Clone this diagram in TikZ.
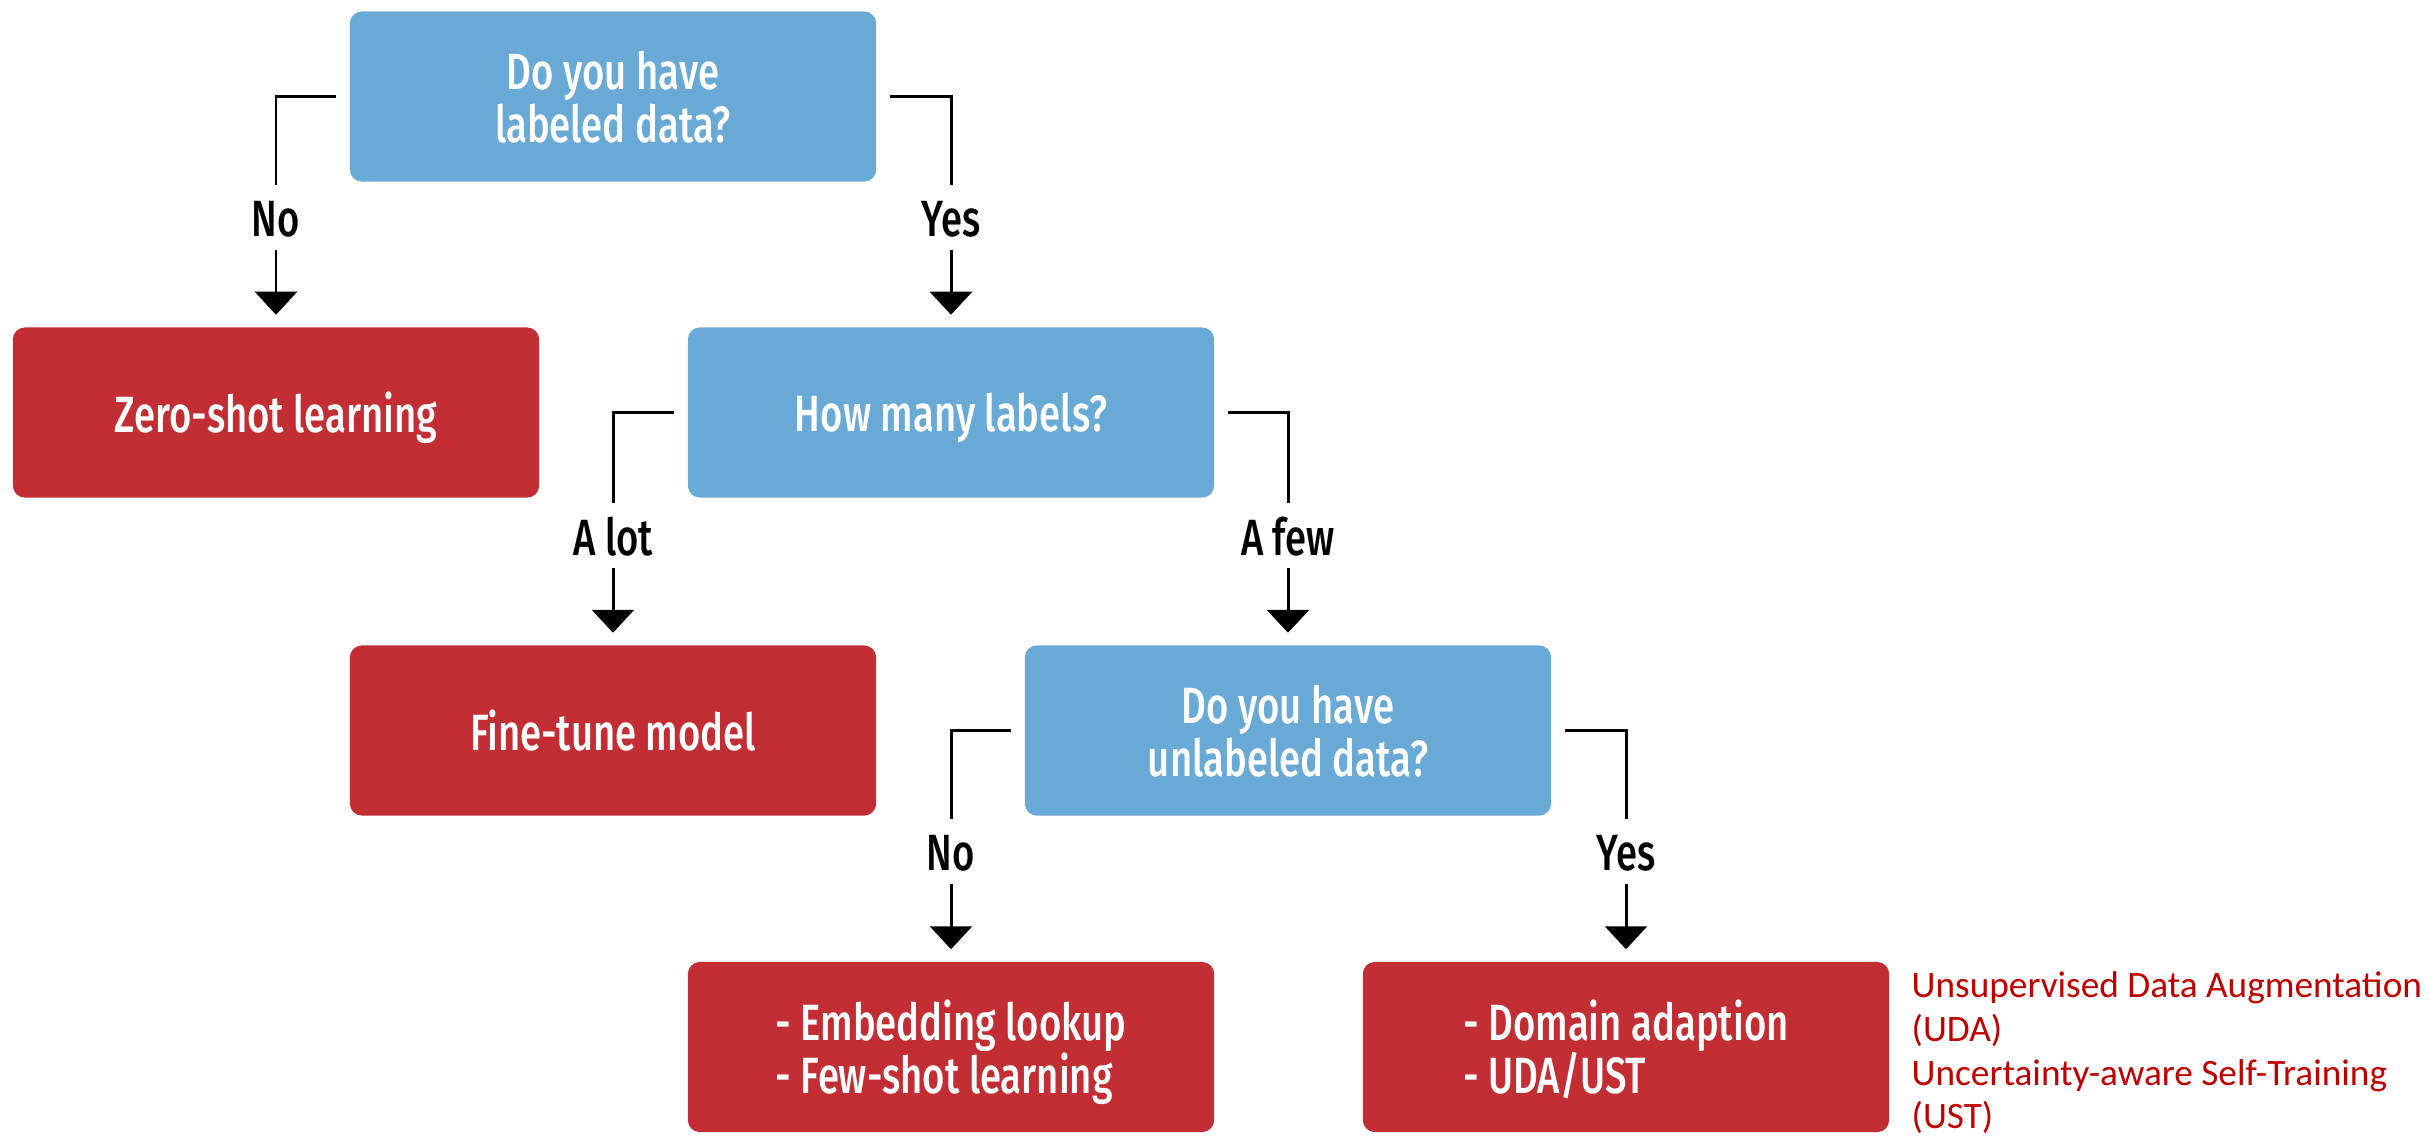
\documentclass[tikz,border=0pt]{standalone}
\usepackage{fontspec}
\setmainfont{Fira Sans}[FakeStretch=0.75, UprightFont=* Medium]
\newfontfamily\notefont{Carlito}
\usetikzlibrary{arrows.meta}
\definecolor{qblue}{HTML}{68A9D6}
\definecolor{ared}{HTML}{C22E34}
\definecolor{notered}{HTML}{C00000}
\tikzset{
  box/.style={rectangle, rounded corners=3.4pt, minimum width=5.26cm, minimum height=1.70cm,
    text=white, align=center, inner sep=0pt, text depth=0pt,
    font=\fontsize{14.5}{15.1}\selectfont},
  question/.style={box, fill=qblue},
  answer/.style={box, fill=ared},
  choice/.style={inner sep=0pt, text=black, font=\fontsize{14.5}{15.1}\selectfont},
  link/.style={line width=0.85pt},
  branch/.style={link, shorten <=0.13cm, shorten >=0.34cm},
  pointer/.style={link, -{Triangle[width=0.42cm,length=0.23cm]}, shorten <=0.31cm, shorten >=0.12cm},
  note/.style={inner sep=0pt, text=notered, align=left, anchor=west,
    font=\notefont\fontsize{10.6}{12.4}\selectfont},
}
\begin{document}
\begin{tikzpicture}[x=0.01cm, y=-0.01cm]
\useasboundingbox (0,0) rectangle (2430,1135);

% decision and outcome boxes
\node[question] (q1) at (613,96.5) {Do you have\\labeled data?};
\node[answer]   (zs) at (276,412.5) {Zero-shot learning};
\node[question] (q2) at (951,412.5) {How many labels?};
\node[answer]   (ft) at (613,730.5) {Fine-tune model};
\node[question] (q3) at (1288,730.5) {Do you have\\unlabeled data?};
\node[answer, align=left] (emb) at (951,1047) {- Embedding lookup\\- Few-shot learning};
\node[answer, align=left] (dom) at (1626,1047) {- Domain adaption\\- UDA/UST};

% branch labels
\node[choice] (c1) at (276,219) {No};
\node[choice] (c2) at (951,219) {Yes};
\node[choice] (c3) at (613,537) {A lot};
\node[choice] (c4) at (1288,537) {A few};
\node[choice] (c5) at (951,853) {No};
\node[choice] (c6) at (1626,853) {Yes};

% connectors
\draw[branch] (q1.west) -| (c1.center);
\draw[pointer] (c1.center) -- (zs.north);
\draw[branch] (q1.east) -| (c2.center);
\draw[pointer] (c2.center) -- (q2.north);
\draw[branch] (q2.west) -| (c3.center);
\draw[pointer] (c3.center) -- (ft.north);
\draw[branch] (q2.east) -| (c4.center);
\draw[pointer] (c4.center) -- (q3.north);
\draw[branch] (q3.west) -| (c5.center);
\draw[pointer] (c5.center) -- (emb.north);
\draw[branch] (q3.east) -| (c6.center);
\draw[pointer] (c6.center) -- (dom.north);

% abbreviations
\node[note] (abbr) at (1911,1053) {Unsupervised Data Augmentation\\(UDA)\\Uncertainty-aware Self-Training\\(UST)};
\end{tikzpicture}
\end{document}
